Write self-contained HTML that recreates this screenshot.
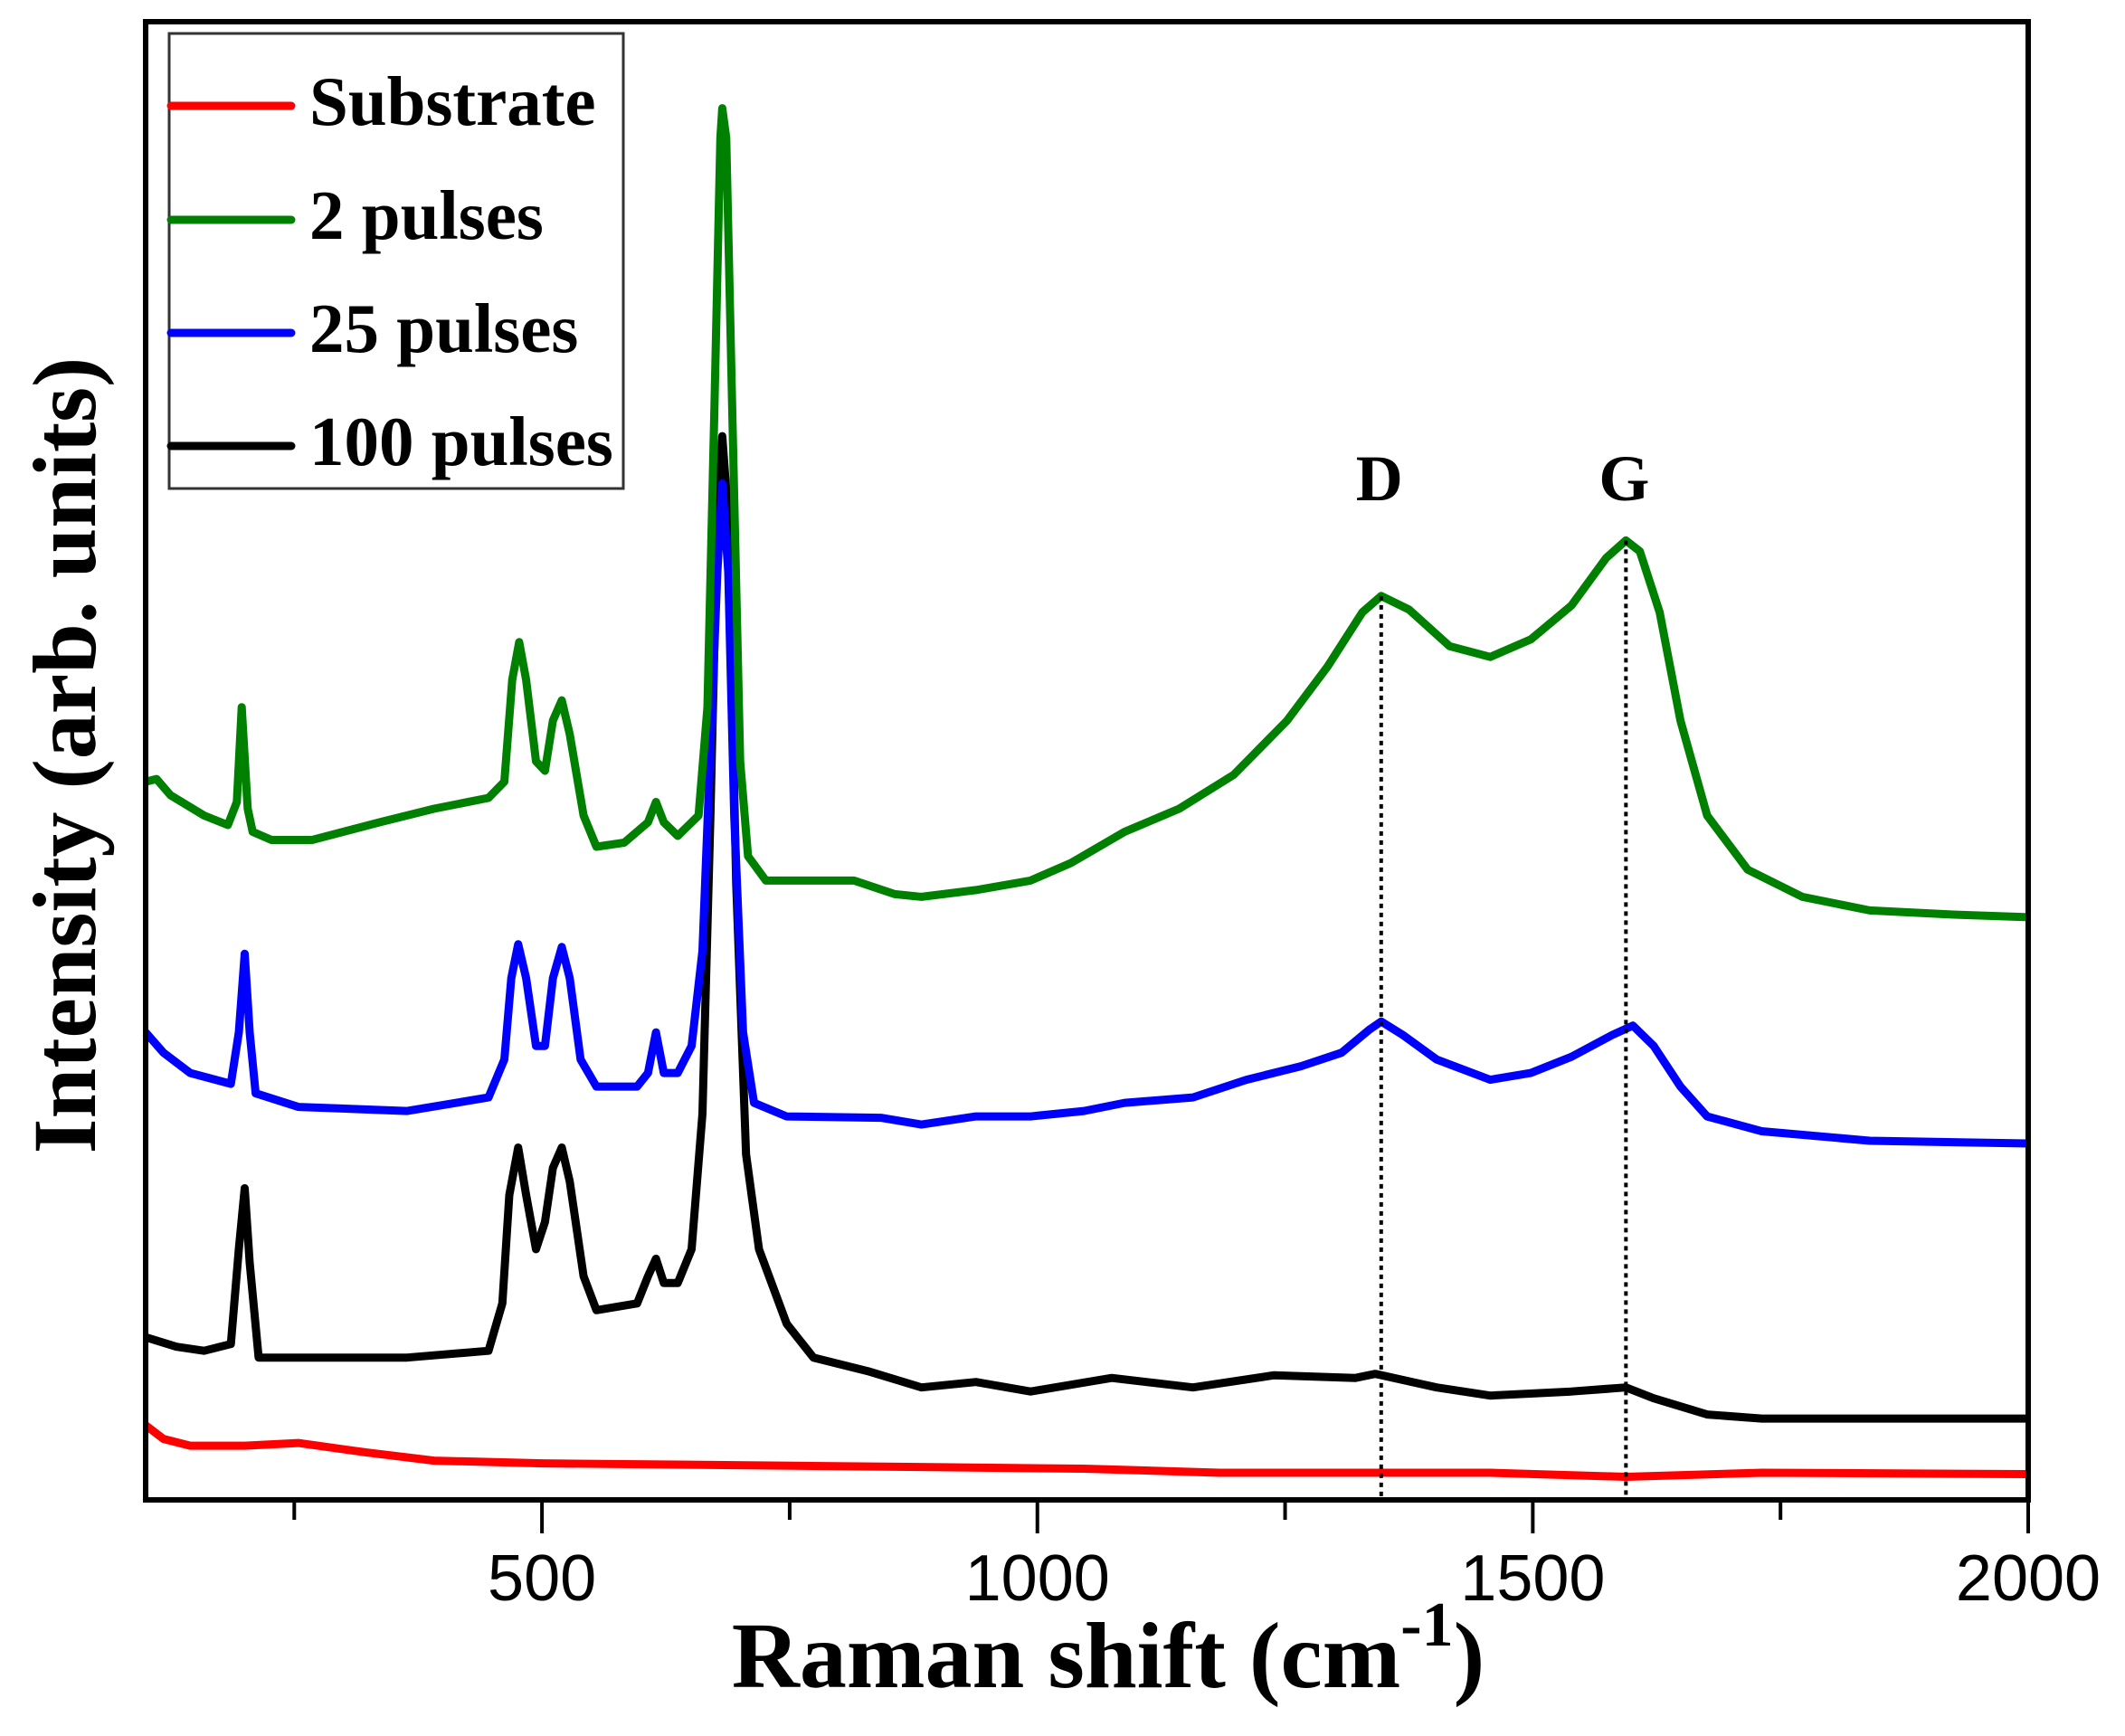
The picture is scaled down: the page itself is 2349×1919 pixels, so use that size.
<!DOCTYPE html>
<html><head><meta charset="utf-8"><style>
html,body{margin:0;padding:0;background:#fff;}
svg{display:block;}
</style></head><body>
<svg id="chart" width="2349" height="1919" viewBox="0 0 2349 1919" xmlns="http://www.w3.org/2000/svg">
<rect width="2349" height="1919" fill="#fff"/>
<g id="series"></g>
<g id="axes"></g>
<rect x="161" y="24" width="2081" height="1634" fill="none" stroke="#000" stroke-width="6"/>
<g>
<rect x="187" y="37" width="502" height="503" fill="#fff" stroke="#333" stroke-width="3"/>
<g><line x1="189" y1="117" x2="322" y2="117" stroke="#ff0000" stroke-width="9" stroke-linecap="round"/><text x="342" y="138" font-family="Liberation Serif, serif" font-weight="bold" font-size="77">Substrate</text></g>
<g><line x1="189" y1="243" x2="322" y2="243" stroke="#008000" stroke-width="9" stroke-linecap="round"/><text x="342" y="264" font-family="Liberation Serif, serif" font-weight="bold" font-size="77">2 pulses</text></g>
<g><line x1="189" y1="368" x2="322" y2="368" stroke="#0000ff" stroke-width="9" stroke-linecap="round"/><text x="342" y="389" font-family="Liberation Serif, serif" font-weight="bold" font-size="77">25 pulses</text></g>
<g><line x1="189" y1="493" x2="322" y2="493" stroke="#000" stroke-width="9" stroke-linecap="round"/><text x="342" y="514" font-family="Liberation Serif, serif" font-weight="bold" font-size="77">100 pulses</text></g>
</g>
<text transform="translate(105,835) rotate(-90)" text-anchor="middle" font-family="Liberation Serif, serif" font-weight="bold" font-size="100">Intensity (arb. units)</text>
<text x="1225" y="1865" text-anchor="middle" font-family="Liberation Serif, serif" font-weight="bold" font-size="104">Raman shift (cm<tspan font-size="70" dy="-46">-1</tspan><tspan dy="46">)</tspan></text>
</svg>
<script>
const xMin = 100, xMax = 2000;
const wnGreen = [100,111,125,159,183,192,197,203,208,227,268,336,391,446,462,470,477,484,494,503,511,520,528,542,555,583,607,615,623,637,658,667,674,680,682,686,692,700,708,726,774,815,856,883,938,993,1034,1088,1143,1198,1252,1293,1328,1347,1375,1416,1457,1498,1539,1574,1594,1608,1628,1649,1676,1717,1772,1840,1922,2000];
const intGreen = [530,532,520,505,498,515,585,510,493,487,487,500,510,518,530,605,633,605,545,538,575,590,565,505,482,485,500,515,500,490,505,585,805,1005,1027,1005,805,545,475,457,457,457,447,445,450,457,470,493,510,535,575,615,655,667,657,630,622,635,660,695,708,700,655,575,505,465,445,435,432,430];
const wnBlue = [100,118,145,186,194,200,205,211,254,364,446,462,469,476,484,494,503,511,520,528,539,555,596,607,615,623,637,651,662,670,677,682,688,694,703,714,747,842,883,938,993,1047,1088,1157,1211,1266,1307,1335,1347,1369,1403,1457,1498,1539,1580,1601,1622,1649,1676,1731,1840,2000];
const intBlue = [345,330,315,307,345,403,345,300,290,287,297,325,385,410,385,335,335,385,408,385,325,305,305,315,345,315,315,335,405,555,685,750,685,505,345,293,283,282,277,283,283,287,293,297,310,320,330,347,353,343,325,310,315,327,343,350,335,305,283,272,265,263];
const wnBlack = [100,131,159,186,194,200,205,214,268,364,446,460,467,476,484,494,503,511,520,528,542,555,596,607,615,623,637,651,662,670,677,682,688,696,706,719,747,774,829,883,938,993,1075,1157,1239,1321,1341,1403,1457,1539,1594,1622,1676,1731,2000];
const intBlack = [120,113,110,115,185,230,175,105,105,105,110,145,225,260,225,185,205,245,260,235,165,140,145,165,178,160,160,185,285,505,725,785,725,455,255,185,130,105,95,83,87,80,90,83,92,90,93,83,77,80,83,75,63,60,60];
const wnRed = [100,118,145,200,254,323,391,501,774,1047,1184,1457,1594,1731,2000];
const intRed = [55,45,40,40,42,35,29,27,25,23,20,20,17,20,19];
const majorTicks = [500,1000,1500,2000];
const majorTickLabels = ["500","1000","1500","2000"];
const minorTicks = [250,750,1250,1750];
const peakPositions = [1347,1594];
const peakLabels = ["D","G"];
const peakTops = [667,708];

const NS = "http://www.w3.org/2000/svg";
function xs(w){ return 161 + (w - xMin) * (2242 - 161) / (xMax - xMin); }
function ys(v){ return 1658 - v * 1.498; }
const seriesG = document.getElementById('series');
const axesG = document.getElementById('axes');

function drawSeries(wn, iv, color, name){
  const p = document.createElementNS(NS,'path');
  let d = '';
  for(let i=0;i<wn.length;i++){ d += (i?'L':'M') + xs(wn[i]).toFixed(1) + ' ' + ys(iv[i]).toFixed(1); }
  p.setAttribute('d', d);
  p.setAttribute('fill','none');
  p.setAttribute('stroke', color);
  p.setAttribute('stroke-width','9');
  p.setAttribute('stroke-linejoin','round');
  
  
  seriesG.appendChild(p);
}
drawSeries(wnRed, intRed, '#ff0000', 'series-substrate');
drawSeries(wnBlack, intBlack, '#000000', 'series-100-pulses');
drawSeries(wnBlue, intBlue, '#0000ff', 'series-25-pulses');
drawSeries(wnGreen, intGreen, '#008000', 'series-2-pulses');

for(let i=0;i<peakPositions.length;i++){
  const l = document.createElementNS(NS,'line');
  const x = xs(peakPositions[i]);
  l.setAttribute('x1', x); l.setAttribute('x2', x);
  l.setAttribute('y1', ys(peakTops[i])); l.setAttribute('y2', 1655);
  l.setAttribute('stroke','#000'); l.setAttribute('stroke-width','4'); l.setAttribute('stroke-dasharray','5 5');
  
  
  seriesG.appendChild(l);
  const t = document.createElementNS(NS,'text');
  t.setAttribute('x', x - 2); t.setAttribute('y', 553);
  t.setAttribute('text-anchor','middle');
  t.setAttribute('font-family','Liberation Serif, serif');
  t.setAttribute('font-weight','bold');
  t.setAttribute('font-size','72');
  t.textContent = peakLabels[i];
  
  
  seriesG.appendChild(t);
}

for(let i=0;i<majorTicks.length;i++){
  const x = xs(majorTicks[i]);
  const l = document.createElementNS(NS,'line');
  l.setAttribute('x1', x); l.setAttribute('x2', x); l.setAttribute('y1', 1658); l.setAttribute('y2', 1695);
  l.setAttribute('stroke','#000'); l.setAttribute('stroke-width','4');
  
  
  axesG.appendChild(l);
  const t = document.createElementNS(NS,'text');
  t.setAttribute('x', x); t.setAttribute('y', 1769);
  t.setAttribute('text-anchor','middle');
  t.setAttribute('font-family','Liberation Sans, sans-serif');
  t.setAttribute('font-size','72');
  t.textContent = majorTickLabels[i];
  
  
  axesG.appendChild(t);
}
for(let i=0;i<minorTicks.length;i++){
  const x = xs(minorTicks[i]);
  const l = document.createElementNS(NS,'line');
  l.setAttribute('x1', x); l.setAttribute('x2', x); l.setAttribute('y1', 1658); l.setAttribute('y2', 1680);
  l.setAttribute('stroke','#000'); l.setAttribute('stroke-width','4');
  
  
  axesG.appendChild(l);
}
</script>
</body></html>
